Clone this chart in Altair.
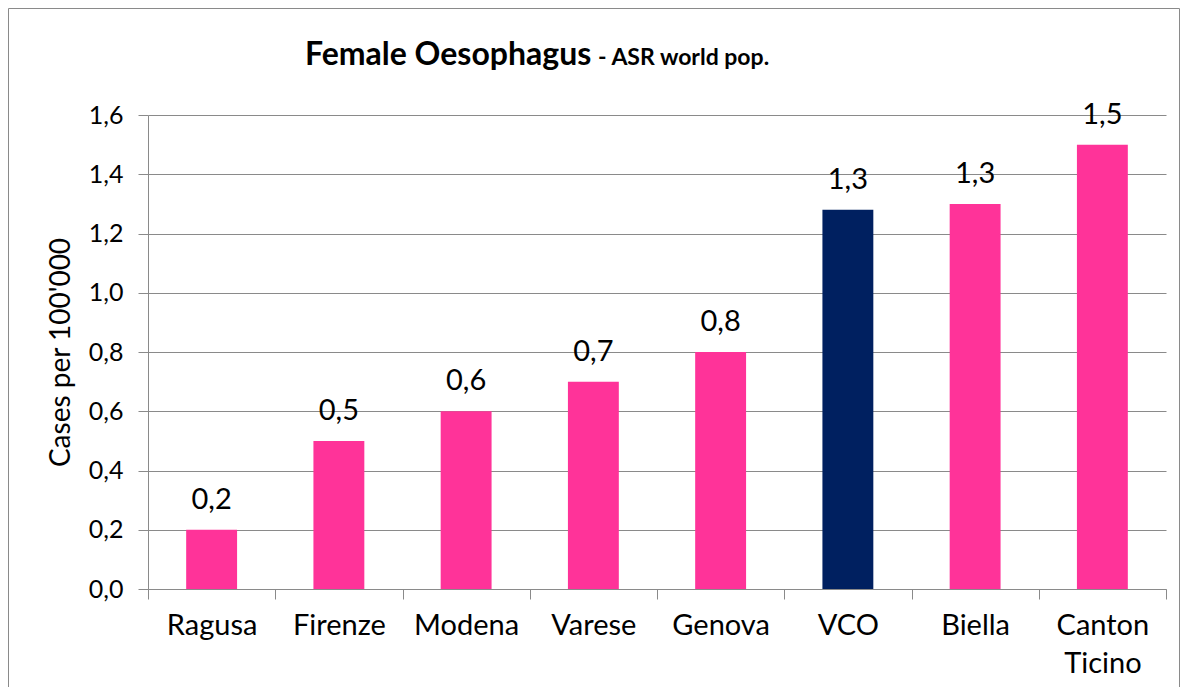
import altair as alt
import pandas as pd

# ---- data ----
regions = ["Ragusa", "Firenze", "Modena", "Varese", "Genova", "VCO", "Biella", "Canton Ticino"]
rates = [0.2, 0.5, 0.6, 0.7, 0.8, 1.28, 1.3, 1.5]
y_ticks = [0.0, 0.2, 0.4, 0.6, 0.8, 1.0, 1.2, 1.4, 1.6]
title_main = "Female Oesophagus"
title_sub = "- ASR world pop."
y_title = "Cases per 100'000"
highlight = "VCO"

df = pd.DataFrame({"region": regions, "rate": rates})

W, H = 1018, 474
FONT = "Lato"
GRAY = "#8a8a8a"
PINK = "#FF3399"
NAVY = "#002060"

base = alt.Chart(df).transform_calculate(
    lbl="replace(format(datum.rate, '.1f'), '.', ',')"
)

x_enc = alt.X(
    "region:N",
    sort=regions,
    title=None,
    scale=alt.Scale(paddingInner=0, paddingOuter=0),
    axis=alt.Axis(
        tickBand="extent",
        labelAngle=0,
        labelFont=FONT,
        labelFontSize=29,
        labelColor="black",
        labelPadding=12,
        labelLineHeight=38,
        labelBaseline="top",
        labelExpr="datum.label == 'Canton Ticino' ? ['Canton', 'Ticino'] : datum.label",
        tickSize=10,
        tickColor=GRAY,
        domainColor=GRAY,
        grid=False,
    ),
)

y_enc = alt.Y(
    "rate:Q",
    title=y_title,
    scale=alt.Scale(domain=[0, 1.6], nice=False),
    axis=alt.Axis(
        values=y_ticks,
        labelExpr="replace(format(datum.value, '.1f'), '.', ',')",
        labelFont=FONT,
        labelFontSize=25,
        labelColor="black",
        labelPadding=15,
        tickSize=10,
        tickColor=GRAY,
        domainColor=GRAY,
        gridColor=GRAY,
        titleFont=FONT,
        titleFontSize=28,
        titleFontWeight="normal",
        titleColor="black",
        titlePadding=13,
    ),
)

bars = base.mark_bar(width=alt.RelativeBandSize(0.4)).encode(
    x=x_enc,
    y=y_enc,
    color=alt.condition(alt.datum.region == highlight, alt.value(NAVY), alt.value(PINK)),
)

values = base.mark_text(
    dy=-21, baseline="alphabetic", font=FONT, fontSize=29, color="black"
).encode(
    x=alt.X("region:N", sort=regions),
    y=alt.Y("rate:Q"),
    text="lbl:N",
)

one = pd.DataFrame({"t": [0]})

border = alt.Chart(one).mark_rect(fill="transparent", stroke=GRAY, strokeWidth=1).encode(
    x=alt.value(-139.5), x2=alt.value(1031.5), y=alt.value(-106.5), y2=alt.value(800)
)

t1 = alt.Chart(pd.DataFrame({"t": [title_main]})).mark_text(
    align="left", baseline="alphabetic", font=FONT, fontSize=32, fontWeight="bold", color="black"
).encode(x=alt.value(157), y=alt.value(-50), text="t:N")

t2 = alt.Chart(pd.DataFrame({"t": [title_sub]})).mark_text(
    align="left", baseline="alphabetic", font=FONT, fontSize=23, fontWeight="bold", color="black"
).encode(x=alt.value(450), y=alt.value(-50), text="t:N")

chart = alt.layer(border, bars, values, t1, t2).properties(
    width=W,
    height=H,
    padding={"left": 140, "top": 107, "right": 14, "bottom": 98},
    autosize=alt.AutoSizeParams(type="none"),
    background="white",
).configure_view(strokeWidth=0)

chart.save("out.html", embed_options={"renderer": "svg", "actions": False})
